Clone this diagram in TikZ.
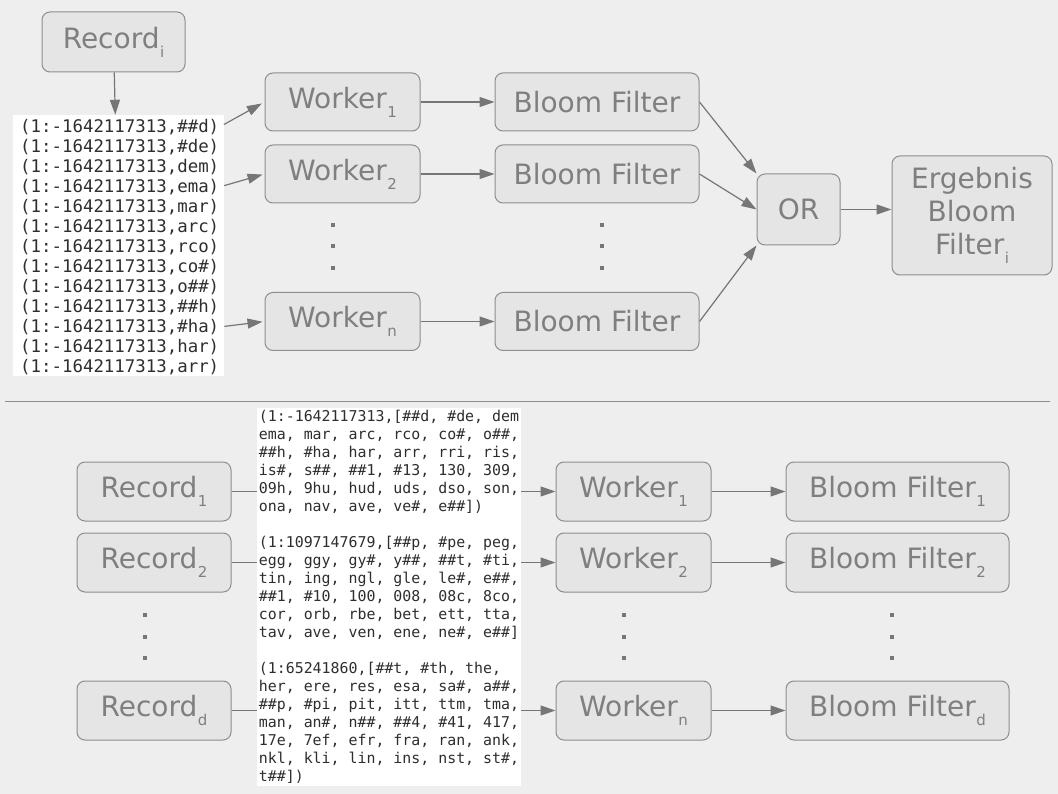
\documentclass[tikz,border=0pt]{standalone}
\usepackage{fontspec}
\setmainfont{DejaVu Sans}
\newfontfamily\monofont{DejaVu Sans Mono}
\usetikzlibrary{arrows.meta}

\definecolor{bg}{HTML}{EEEEEE}
\definecolor{boxfill}{HTML}{E5E5E5}
\definecolor{boxline}{HTML}{8E8E8E}
\definecolor{txt}{HTML}{7F7F7F}
\definecolor{arr}{HTML}{767676}
\definecolor{code}{HTML}{2E2E2E}

% kleiner, tiefer Index
\newcommand{\idx}[1]{\kern0.5pt\raisebox{-9pt}{\fontsize{15}{15}\selectfont #1}}

\begin{document}
\begin{tikzpicture}[x=1pt, y=-1pt,
    box/.style={draw=boxline, fill=boxfill, rounded corners=8pt, line width=1pt,
        text=txt, inner sep=0pt, font=\fontsize{28}{33}\selectfont},
    arrow/.style={draw=arr, line width=1.2pt, -{Triangle[length=15pt, width=10pt]}},
    vdot/.style={fill=arr, minimum size=4pt, inner sep=0pt},
    codeline/.style={anchor=west, inner sep=0pt, text=code,
        font=\monofont\fontsize{17.4}{20}\selectfont}]

    \fill[bg] (0,0) rectangle (1058,794);
    \useasboundingbox (0,0) rectangle (1058,794);

    % oben: ein Record
    \node[box, minimum width=143pt, minimum height=60pt] (rec) at (113.5, 42) {Record\idx{i}};
    \node[fill=white, minimum width=211pt, minimum height=261pt, inner sep=0pt] (list) at (118.5, 245.5) {};
    \foreach \t [count=\k] in {\#\#d, \#de, dem, ema, mar, arc, rco, co\#, o\#\#, \#\#h, \#ha, har, arr}
        \node[codeline] (l\k) at (20, 107+20*\k) {(1:-1642117313,\t)};

    \node[box, minimum width=155pt, minimum height=58pt] (w1) at (342.5, 102) {Worker\idx{1}};
    \node[box, minimum width=155pt, minimum height=58pt] (w2) at (342.5, 174) {Worker\idx{2}};
    \node[box, minimum width=155pt, minimum height=58pt] (wn) at (342.5, 321.5) {Worker\idx{n}};
    \node[vdot] (wd1) at (333, 225) {};
    \node[vdot] (wd2) at (333, 246.5) {};
    \node[vdot] (wd3) at (333, 268) {};

    \node[box, minimum width=204pt, minimum height=58pt] (b1) at (597, 102) {Bloom Filter};
    \node[box, minimum width=204pt, minimum height=58pt] (b2) at (597, 174) {Bloom Filter};
    \node[box, minimum width=204pt, minimum height=58pt] (bn) at (597, 321.5) {Bloom Filter};
    \node[vdot] (bd1) at (601.5, 225) {};
    \node[vdot] (bd2) at (601.5, 246.5) {};
    \node[vdot] (bd3) at (601.5, 268) {};

    \node[box, minimum width=83pt, minimum height=71pt] (or) at (798.5, 209.5) {OR};
    \node[box, minimum width=160pt, minimum height=119pt, align=center] (erg) at (972, 215.5) {Ergebnis\\Bloom\\Filter\idx{i}};

    \draw[arrow] (rec) -- (list);
    \draw[arrow, shorten <=5pt, shorten >=3pt] (l1.east) -- (w1.west);
    \draw[arrow, shorten <=5pt, shorten >=2pt] (l4.east) -- (w2.west);
    \draw[arrow, shorten <=5pt, shorten >=2pt] (l11.east) -- (wn.west);
    \draw[arrow] (w1) -- (b1);
    \draw[arrow] (w2) -- (b2);
    \draw[arrow] (wn) -- (bn);
    \draw[arrow] (b1.east) -- (or.north west);
    \draw[arrow] (b2.east) -- (or.west);
    \draw[arrow] (bn.east) -- (or.south west);
    \draw[arrow] (or.east) -- (or.east -| erg.west);

    \draw[boxline, line width=1pt] (5, 401) -- (1050, 401);

    % unten: alle Records
    \node[box, minimum width=154pt, minimum height=59pt] (r1) at (154, 491.5) {Record\idx{1}};
    \node[box, minimum width=154pt, minimum height=59pt] (r2) at (154, 562.5) {Record\idx{2}};
    \node[box, minimum width=154pt, minimum height=59pt] (rd) at (154, 710.5) {Record\idx{d}};
    \node[vdot] (rd1) at (144.5, 615) {};
    \node[vdot] (rd2) at (144.5, 636.5) {};
    \node[vdot] (rd3) at (144.5, 658) {};

    \node[box, minimum width=155pt, minimum height=59pt] (v1) at (633.5, 491.5) {Worker\idx{1}};
    \node[box, minimum width=155pt, minimum height=59pt] (v2) at (633.5, 562.5) {Worker\idx{2}};
    \node[box, minimum width=155pt, minimum height=59pt] (vn) at (633.5, 710.5) {Worker\idx{n}};
    \node[vdot] (vd1) at (624, 615) {};
    \node[vdot] (vd2) at (624, 636.5) {};
    \node[vdot] (vd3) at (624, 658) {};

    \node[box, minimum width=223pt, minimum height=59pt] (f1) at (897.5, 491.5) {Bloom Filter\idx{1}};
    \node[box, minimum width=223pt, minimum height=59pt] (f2) at (897.5, 562.5) {Bloom Filter\idx{2}};
    \node[box, minimum width=223pt, minimum height=59pt] (fd) at (897.5, 710.5) {Bloom Filter\idx{d}};
    \node[vdot] (fd1) at (892, 615) {};
    \node[vdot] (fd2) at (892, 636.5) {};
    \node[vdot] (fd3) at (892, 658) {};

    \draw[arrow] (r1) -- (v1);
    \draw[arrow] (r2) -- (v2);
    \draw[arrow] (rd) -- (vn);
    \draw[arrow] (v1) -- (f1);
    \draw[arrow] (v2) -- (f2);
    \draw[arrow] (vn) -- (fd);

    \node[fill=white, minimum width=264pt, minimum height=378pt, inner sep=0pt,
        align=left, text=code, font=\monofont\fontsize{14.9}{18}\selectfont] (seq) at (389, 597) {%
        (1:-1642117313,[\#\#d, \#de, dem\\
        ema, mar, arc, rco, co\#, o\#\#,\\
        \#\#h, \#ha, har, arr, rri, ris,\\
        is\#, s\#\#, \#\#1, \#13, 130, 309,\\
        09h, 9hu, hud, uds, dso, son,\\
        ona, nav, ave, ve\#, e\#\#])\\[18pt]
        (1:1097147679,[\#\#p, \#pe, peg,\\
        egg, ggy, gy\#, y\#\#, \#\#t, \#ti,\\
        tin, ing, ngl, gle, le\#, e\#\#,\\
        \#\#1, \#10, 100, 008, 08c, 8co,\\
        cor, orb, rbe, bet, ett, tta,\\
        tav, ave, ven, ene, ne\#, e\#\#]\\[18pt]
        (1:65241860,[\#\#t, \#th, the,\\
        her, ere, res, esa, sa\#, a\#\#,\\
        \#\#p, \#pi, pit, itt, ttm, tma,\\
        man, an\#, n\#\#, \#\#4, \#41, 417,\\
        17e, 7ef, efr, fra, ran, ank,\\
        nkl, kli, lin, ins, nst, st\#,\\
        t\#\#])};
\end{tikzpicture}
\end{document}
